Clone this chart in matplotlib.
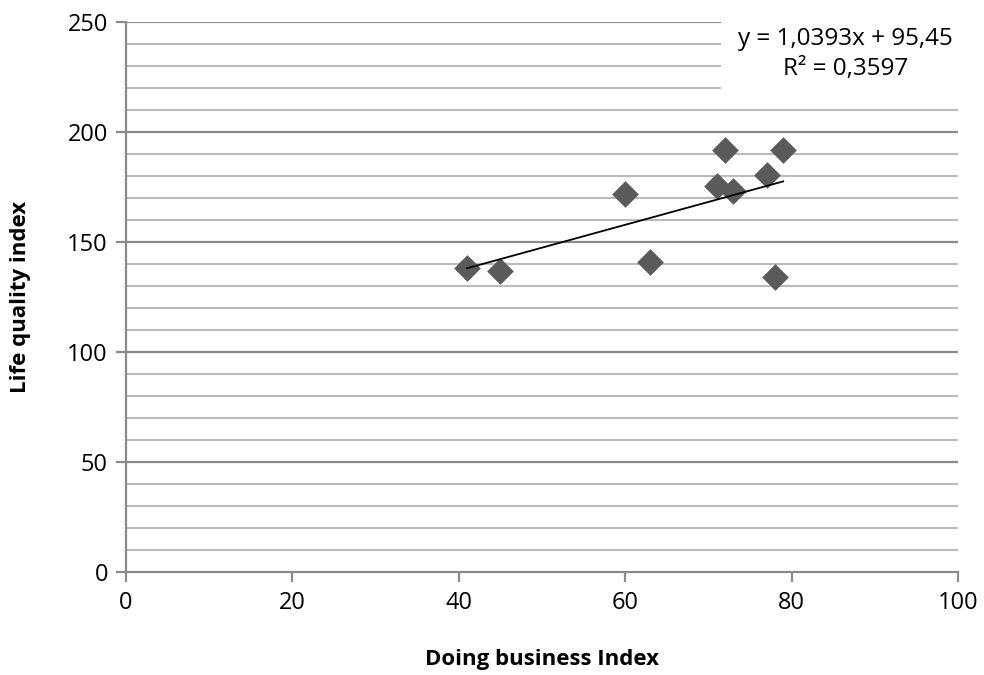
import matplotlib
matplotlib.use("Agg")
import matplotlib.pyplot as plt
import numpy as np

plt.rcParams['font.family'] = ['Open Sans', 'DejaVu Sans']

x_vals = [41, 45, 60, 63, 71, 72, 73, 77, 78, 79]
y_vals = [138, 137, 172, 141, 175.5, 192, 173, 180.5, 134, 192]
slope = 1.0393
intercept = 95.45
eq_text = "y = 1,0393x + 95,45\nR² = 0,3597"

fig = plt.figure(figsize=(9.84, 6.75), dpi=100)
ax = fig.add_axes([0.128, 0.1526, 0.8455, 0.8148])

ax.set_xlim(0, 100)
ax.set_ylim(0, 250)
ax.set_xticks(np.arange(0, 101, 20))
ax.set_yticks(np.arange(0, 251, 50))
ax.set_yticks(np.arange(0, 251, 10), minor=True)

for v in np.arange(10, 251, 10):
    major = (v % 50 == 0)
    ax.axhline(v, color='#8a8a8a' if major else '#b9b9b9', lw=1.6 if major else 1.4, zorder=1)

for s in ['top', 'right']:
    ax.spines[s].set_visible(False)
for s in ['left', 'bottom']:
    ax.spines[s].set_color('#8a8a8a')
    ax.spines[s].set_linewidth(1.6)
ax.tick_params(axis='both', which='major', direction='out', length=7, width=1.6,
               color='#8a8a8a', labelsize=17, labelcolor='black')
ax.tick_params(axis='y', which='minor', length=0)
ax.tick_params(axis='x', pad=7)
ax.tick_params(axis='y', pad=6)

# white label box over gridlines
ax.add_patch(plt.Rectangle((71.5, 214), 29, 38, facecolor='white', edgecolor='none',
                           zorder=2, clip_on=False))
ax.text(86.5, 235.5, eq_text, ha='center', va='center', fontsize=17.5,
        linespacing=1.3, zorder=3)

ax.scatter(x_vals, y_vals, marker='D', s=185, color='#5a5a5a', zorder=4, linewidths=0)

xs = np.array([min(x_vals), max(x_vals)])
ax.plot(xs, slope * xs + intercept, color='black', lw=1.3, zorder=5)

ax.set_xlabel('Doing business Index', fontsize=16, fontweight='bold', va='center')
ax.set_ylabel('Life quality index', fontsize=16, fontweight='bold', va='center')
ax.xaxis.set_label_coords(0.5, -0.16)
ax.yaxis.set_label_coords(-0.127, 0.5)

fig.savefig('out.png', dpi=100)
